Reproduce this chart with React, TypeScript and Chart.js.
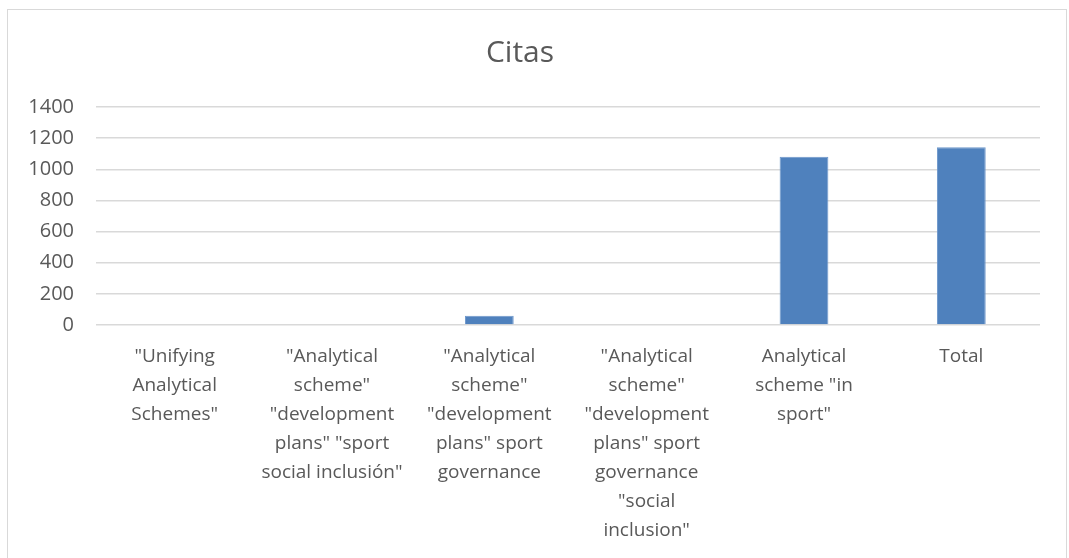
import React, { useEffect, useRef } from "react";
import { Chart, registerables } from "chart.js";

Chart.register(...registerables);

const categories: string[][] = [
  ['"Unifying', "Analytical", 'Schemes"'],
  ['"Analytical', 'scheme"', '"development', 'plans" "sport', 'social inclusión"'],
  ['"Analytical', 'scheme"', '"development', 'plans" sport', "governance"],
  ['"Analytical', 'scheme"', '"development', 'plans" sport', "governance", '"social', 'inclusion"'],
  ["Analytical", 'scheme "in', 'sport"'],
  ["Total"],
];
const citas: number[] = [0, 0, 60, 0, 1080, 1142];
const yTicks: number[] = [0, 200, 400, 600, 800, 1000, 1200, 1400];

const TEXT = "#595959";
const FONT = "'Open Sans', sans-serif";

export default function App() {
  const ref = useRef<HTMLCanvasElement | null>(null);
  useEffect(() => {
    if (!ref.current) return;
    const chart = new Chart(ref.current, {
      type: "bar",
      data: {
        labels: categories,
        datasets: [
          {
            label: "Citas",
            data: citas,
            backgroundColor: "#4f81bd",
            borderColor: "#6d97cb",
            borderWidth: 1,
            barPercentage: 0.31,
            categoryPercentage: 1,
          },
        ],
      },
      options: {
        animation: false,
        responsive: false,
        maintainAspectRatio: false,
        layout: { padding: { left: 0, right: 29, top: 0, bottom: 0 } },
        plugins: {
          legend: { display: false },
          tooltip: { enabled: false },
          title: {
            display: true,
            text: "Citas",
            color: TEXT,
            font: { family: FONT, size: 30, weight: "normal", lineHeight: 1.2 },
            padding: { top: 35, bottom: 36 },
          },
        },
        scales: {
          x: {
            grid: { display: false, drawTicks: false },
            border: { display: false },
            ticks: {
              color: TEXT,
              font: { family: FONT, size: 19, lineHeight: 29 / 19 },
              padding: 17,
              maxRotation: 0,
              autoSkip: false,
            },
            afterFit: (axis: any) => {
              axis.height = 233;
            },
          },
          y: {
            min: 0,
            max: 1400,
            afterBuildTicks: (axis: any) => {
              axis.ticks = yTicks.map((v) => ({ value: v }));
            },
            grid: { color: "#d9d9d9", lineWidth: 1.5, drawTicks: false },
            border: { display: false },
            ticks: {
              color: TEXT,
              font: { family: FONT, size: 20 },
              padding: 22,
              callback: (v: any) => String(v),
            },
            afterFit: (axis: any) => {
              axis.width = 96;
            },
          },
        },
      },
    });
    return () => chart.destroy();
  }, []);

  return (
    <div
      style={{
        position: "fixed",
        left: 0,
        top: 0,
        width: 1069,
        height: 558,
        overflow: "hidden",
        background: "#ffffff",
      }}
    >
      <div
        style={{
          position: "absolute",
          left: 7,
          top: 9,
          width: 1060,
          height: 600,
          border: "1px solid #d9d9d9",
          boxSizing: "border-box",
        }}
      />
      <canvas
        ref={ref}
        width={1069}
        height={558}
        style={{ position: "absolute", left: 0, top: 0, width: 1069, height: 558 }}
      />
    </div>
  );
}
